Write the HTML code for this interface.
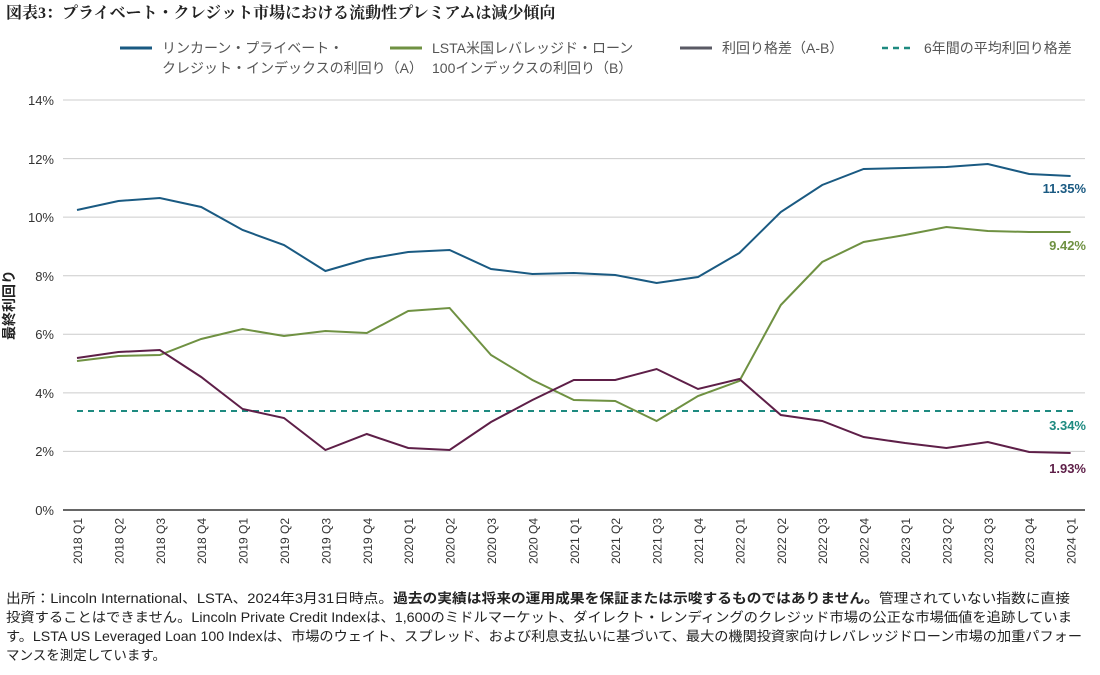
<!DOCTYPE html><html><head><meta charset="utf-8"><style>
body{margin:0;width:1100px;height:670px;background:#fff;font-family:"Liberation Sans","Noto Sans CJK JP",sans-serif;overflow:hidden}
</style></head><body>
<svg width="1100" height="670" xmlns="http://www.w3.org/2000/svg" font-family="Liberation Sans, Noto Sans CJK JP, sans-serif">
<text x="6" y="18" font-family="Liberation Serif, Noto Serif CJK SC, serif" font-weight="bold" font-size="16" fill="#222">図表3：プライベート・クレジット市場における流動性プレミアムは減少傾向</text>
<g font-size="14" fill="#555">
<line x1="120" y1="48" x2="152" y2="48" stroke="#1a5a82" stroke-width="3"/>
<text x="162" y="53">リンカーン・プライベート・</text><text x="162" y="73">クレジット・インデックスの利回り（A）</text>
<line x1="390" y1="48" x2="422" y2="48" stroke="#6f9142" stroke-width="3"/>
<text x="432" y="53">LSTA米国レバレッジド・ローン</text><text x="432" y="73">100インデックスの利回り（B）</text>
<line x1="680" y1="48" x2="712" y2="48" stroke="#5a5a64" stroke-width="3"/>
<text x="722" y="53">利回り格差（A-B）</text>
<line x1="882" y1="48" x2="914" y2="48" stroke="#1e8a80" stroke-width="2.5" stroke-dasharray="6,5"/>
<text x="924" y="53">6年間の平均利回り格差</text>
</g>
<g stroke="#ccc" stroke-width="1">
<line x1="63" y1="100" x2="1085" y2="100"/><line x1="63" y1="158.6" x2="1085" y2="158.6"/><line x1="63" y1="217.1" x2="1085" y2="217.1"/><line x1="63" y1="275.7" x2="1085" y2="275.7"/><line x1="63" y1="334.3" x2="1085" y2="334.3"/><line x1="63" y1="392.9" x2="1085" y2="392.9"/><line x1="63" y1="451.4" x2="1085" y2="451.4"/>
</g>
<line x1="63" y1="510" x2="1085" y2="510" stroke="#666" stroke-width="2"/>
<g font-size="13" fill="#333" text-anchor="end">
<text x="54" y="105">14%</text><text x="54" y="164">12%</text><text x="54" y="222">10%</text><text x="54" y="281">8%</text><text x="54" y="339">6%</text><text x="54" y="398">4%</text><text x="54" y="456">2%</text><text x="54" y="515">0%</text>
</g>
<text transform="translate(14,305) rotate(-90)" font-size="14" font-weight="bold" fill="#222" text-anchor="middle">最終利回り</text>
<line x1="77" y1="411" x2="1075" y2="411" stroke="#1e8a80" stroke-width="2" stroke-dasharray="6,5"/>
<polyline fill="none" stroke="#1a5a82" stroke-width="2" points="77,210 118.4,201 159.8,198 201.2,207 242.6,230 284,245 325.4,271 366.8,259 408.2,252 449.6,250 491,269 532.4,274 573.8,273 615.2,275 656.6,283 698,277 739.4,253 780.8,212 822.2,185 863.6,169 905,168 946.4,167 987.8,164 1029.2,174 1070.6,176"/>
<polyline fill="none" stroke="#6f9142" stroke-width="2" points="77,361 118.4,356 159.8,355 201.2,339 242.6,329 284,336 325.4,331 366.8,333 408.2,311 449.6,308 491,355 532.4,380 573.8,400 615.2,401 656.6,421 698,396 739.4,381 780.8,305 822.2,262 863.6,242 905,235 946.4,227 987.8,231 1029.2,232 1070.6,232"/>
<polyline fill="none" stroke="#5e1f48" stroke-width="2" points="77,358 118.4,352 159.8,350 201.2,377 242.6,409 284,418 325.4,450 366.8,434 408.2,448 449.6,450 491,422 532.4,400 573.8,380 615.2,380 656.6,369 698,389 739.4,379 780.8,415 822.2,421 863.6,437 905,443 946.4,448 987.8,442 1029.2,452 1070.6,453"/>
<g font-size="13" font-weight="bold" text-anchor="end">
<text x="1086" y="193" fill="#1a5a82">11.35%</text>
<text x="1086" y="250" fill="#6f9142">9.42%</text>
<text x="1086" y="430" fill="#1e8a80">3.34%</text>
<text x="1086" y="473" fill="#5e1f48">1.93%</text>
</g>
<g font-size="12" fill="#333" text-anchor="end">
<text transform="translate(82,518) rotate(-90)">2018 Q1</text><text transform="translate(123.4,518) rotate(-90)">2018 Q2</text><text transform="translate(164.8,518) rotate(-90)">2018 Q3</text><text transform="translate(206.2,518) rotate(-90)">2018 Q4</text>
<text transform="translate(247.6,518) rotate(-90)">2019 Q1</text><text transform="translate(289,518) rotate(-90)">2019 Q2</text><text transform="translate(330.4,518) rotate(-90)">2019 Q3</text><text transform="translate(371.8,518) rotate(-90)">2019 Q4</text>
<text transform="translate(413.2,518) rotate(-90)">2020 Q1</text><text transform="translate(454.6,518) rotate(-90)">2020 Q2</text><text transform="translate(496,518) rotate(-90)">2020 Q3</text><text transform="translate(537.4,518) rotate(-90)">2020 Q4</text>
<text transform="translate(578.8,518) rotate(-90)">2021 Q1</text><text transform="translate(620.2,518) rotate(-90)">2021 Q2</text><text transform="translate(661.6,518) rotate(-90)">2021 Q3</text><text transform="translate(703,518) rotate(-90)">2021 Q4</text>
<text transform="translate(744.4,518) rotate(-90)">2022 Q1</text><text transform="translate(785.8,518) rotate(-90)">2022 Q2</text><text transform="translate(827.2,518) rotate(-90)">2022 Q3</text><text transform="translate(868.6,518) rotate(-90)">2022 Q4</text>
<text transform="translate(910,518) rotate(-90)">2023 Q1</text><text transform="translate(951.4,518) rotate(-90)">2023 Q2</text><text transform="translate(992.8,518) rotate(-90)">2023 Q3</text><text transform="translate(1034.2,518) rotate(-90)">2023 Q4</text>
<text transform="translate(1075.6,518) rotate(-90)">2024 Q1</text>
</g>
<g font-size="13.5" fill="#222">
<text x="6" y="603" textLength="1064" lengthAdjust="spacingAndGlyphs">出所：Lincoln International、LSTA、2024年3月31日時点。<tspan font-weight="bold">過去の実績は将来の運用成果を保証または示唆するものではありません。</tspan>管理されていない指数に直接</text>
<text x="6" y="622" textLength="1066" lengthAdjust="spacingAndGlyphs">投資することはできません。Lincoln Private Credit Indexは、1,600のミドルマーケット、ダイレクト・レンディングのクレジッド市場の公正な市場価値を追跡していま</text>
<text x="6" y="641" textLength="1076" lengthAdjust="spacingAndGlyphs">す。LSTA US Leveraged Loan 100 Indexは、市場のウェイト、スプレッド、および利息支払いに基づいて、最大の機関投資家向けレバレッジドローン市場の加重パフォー</text>
<text x="6" y="660">マンスを測定しています。</text>
</g>
</svg>
</body></html>
